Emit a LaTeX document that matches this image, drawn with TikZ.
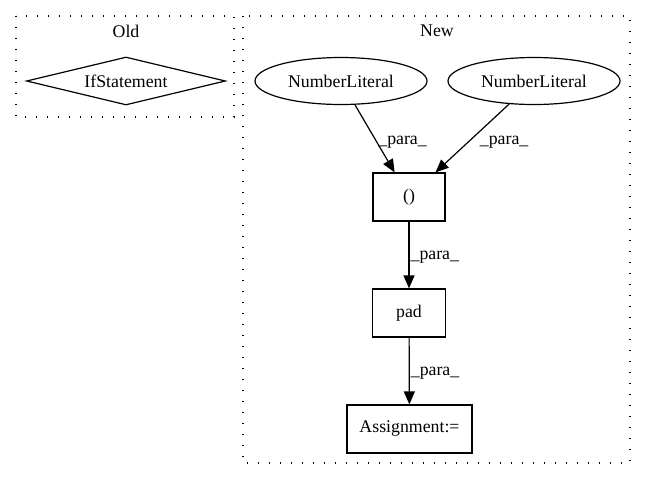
\documentclass[tikz,border=0pt]{standalone}
\usepackage{fontspec}
\setmainfont{Liberation Serif}
\usetikzlibrary{shapes.geometric,arrows.meta}
\begin{document}
\begin{tikzpicture}[x=1pt,y=-1pt,
  every node/.style={font=\fontsize{17.8pt}{21pt}\selectfont, inner sep=0pt},
  cluster/.style={draw, line width=1.1pt, dash pattern=on 1.4pt off 9.6pt},
  boxnode/.style={draw, line width=1.2pt, rectangle, minimum height=48pt},
  ellnode/.style={draw, line width=1.2pt, ellipse, minimum width=172pt, minimum height=47pt},
  dianode/.style={draw, line width=1.2pt, diamond, aspect=4, minimum width=199pt, minimum height=48pt},
  edge/.style={draw, line width=1.2pt, -{Triangle[length=13pt,width=11pt]}},
  lbl/.style={anchor=west}
]
\useasboundingbox (0,0) rectangle (647,480);
% clusters
\draw[cluster] (16,16) rectangle (234,117);
\node (oldt) at (126,31) {Old};
\draw[cluster] (243,16) rectangle (630,463);
\node (newt) at (437,31) {New};
% nodes
\node[dianode] (ifs) at (126,81) {IfStatement};
\node[ellnode] (nl1) at (341,81) {NumberLiteral};
\node[ellnode] (nl2) at (534,81) {NumberLiteral};
\node[boxnode, minimum width=72pt] (tup) at (409,197) {()};
\node[boxnode, minimum width=73pt] (pad) at (409,313) {pad};
\node[boxnode, minimum width=125pt] (asg) at (409.5,429) {Assignment:=};
% edges
\path[edge] (nl1) -- node[lbl, pos=0.55, xshift=1pt] {\_para\_} (tup);
\path[edge] (nl2) -- node[lbl, pos=0.554, xshift=11pt] {\_para\_} (tup);
\path[edge] (tup) -- node[lbl, pos=0.53, xshift=1pt] {\_para\_} (pad);
\path[edge] (pad) -- node[lbl, pos=0.53, xshift=1pt] {\_para\_} (asg);
\end{tikzpicture}
\end{document}
